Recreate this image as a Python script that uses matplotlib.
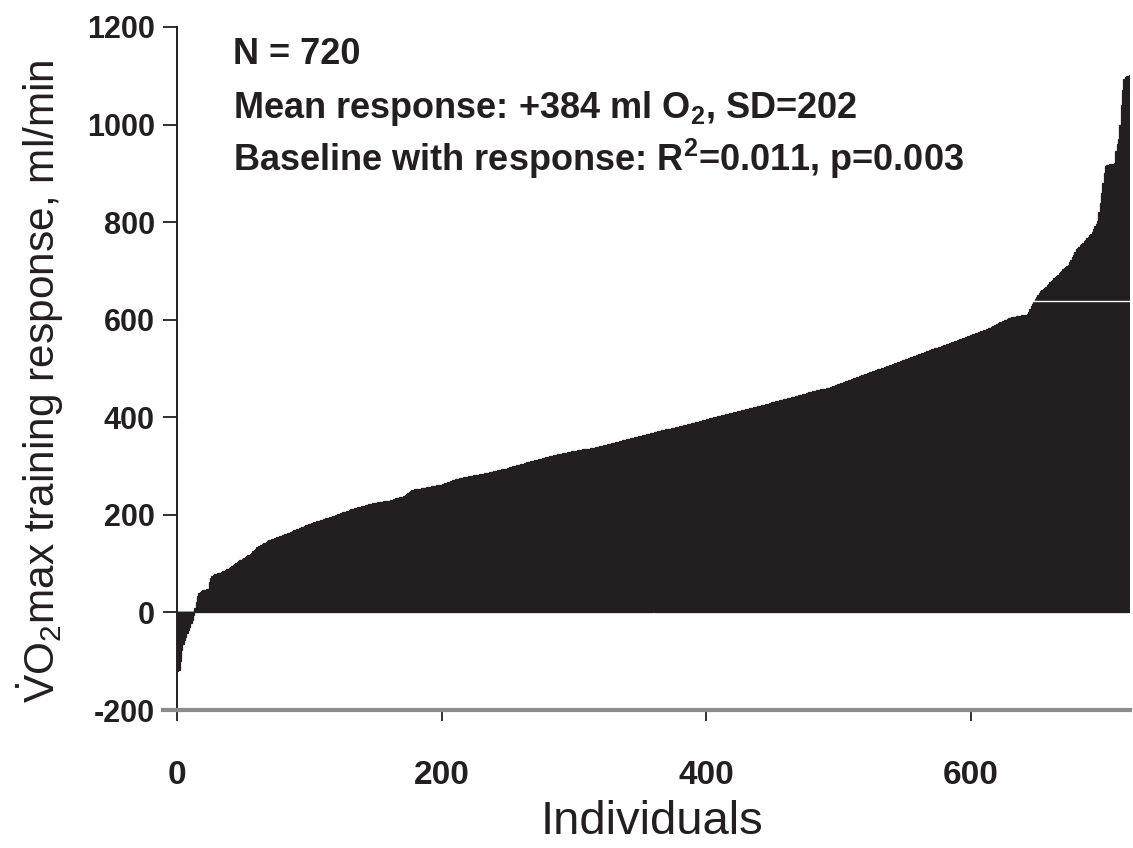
import matplotlib.pyplot as plt
import numpy as np

# VO2max training response per individual (ml/min), sorted
response = [
    -121, -118, -100, -77, -65, -57, -50, -42, -36, -30, -22, -16, -5, 10, 22, 33, 39, 42, 44, 45,
    45, 46, 47, 48, 62, 70, 74, 76, 78, 79, 80, 80, 81, 82, 84, 85, 87, 88, 90, 91,
    93, 95, 97, 99, 101, 103, 105, 107, 108, 110, 112, 113, 115, 117, 118, 120, 122, 125, 128, 131,
    134, 136, 137, 139, 140, 142, 143, 145, 146, 148, 149, 150, 151, 152, 153, 154, 155, 156, 157, 158,
    159, 160, 161, 162, 163, 164, 165, 166, 168, 169, 170, 171, 173, 174, 175, 176, 178, 179, 180, 181,
    182, 183, 184, 185, 186, 187, 187, 188, 189, 190, 191, 192, 193, 194, 194, 195, 196, 197, 198, 199,
    200, 201, 202, 203, 204, 205, 206, 206, 207, 208, 210, 211, 212, 213, 214, 215, 216, 216, 217, 218,
    219, 219, 220, 221, 222, 223, 223, 224, 224, 225, 225, 226, 226, 227, 227, 227, 228, 228, 229, 229,
    229, 230, 231, 232, 233, 234, 235, 235, 236, 237, 237, 239, 241, 243, 245, 246, 248, 250, 251, 252,
    253, 253, 254, 254, 255, 255, 256, 256, 257, 257, 258, 258, 259, 259, 260, 260, 261, 261, 262, 262,
    263, 264, 265, 266, 267, 268, 269, 270, 271, 272, 273, 274, 274, 275, 276, 276, 277, 277, 278, 278,
    279, 279, 280, 280, 281, 281, 282, 282, 283, 283, 284, 284, 285, 285, 286, 286, 287, 288, 288, 289,
    290, 290, 291, 292, 292, 293, 294, 294, 295, 296, 297, 298, 299, 300, 300, 301, 302, 303, 303, 304,
    305, 305, 306, 307, 308, 308, 309, 310, 310, 311, 312, 313, 313, 314, 315, 315, 316, 317, 318, 318,
    319, 320, 320, 321, 322, 322, 323, 324, 324, 325, 325, 326, 326, 327, 327, 328, 328, 329, 330, 330,
    331, 331, 332, 332, 333, 333, 334, 334, 335, 335, 336, 336, 337, 337, 338, 338, 339, 339, 340, 341,
    341, 342, 343, 343, 344, 345, 345, 346, 347, 348, 348, 349, 350, 350, 351, 352, 353, 353, 354, 355,
    355, 356, 357, 358, 358, 359, 360, 360, 361, 362, 362, 363, 364, 364, 365, 366, 366, 367, 368, 368,
    369, 370, 370, 371, 372, 372, 373, 374, 374, 375, 376, 376, 377, 378, 378, 379, 380, 380, 381, 382,
    382, 383, 384, 384, 385, 386, 386, 387, 388, 388, 389, 390, 390, 391, 392, 392, 393, 394, 394, 395,
    396, 397, 398, 398, 399, 400, 400, 401, 402, 402, 403, 404, 404, 405, 406, 406, 407, 408, 408, 409,
    410, 410, 411, 412, 412, 413, 414, 414, 415, 416, 417, 418, 419, 419, 420, 421, 421, 422, 423, 424,
    424, 425, 426, 426, 427, 428, 428, 429, 430, 431, 431, 432, 433, 434, 434, 435, 436, 436, 437, 438,
    438, 439, 440, 440, 441, 442, 442, 443, 444, 445, 445, 446, 447, 448, 448, 449, 450, 451, 451, 452,
    453, 453, 454, 455, 455, 456, 457, 457, 458, 459, 460, 460, 461, 462, 463, 464, 465, 466, 467, 468,
    469, 470, 471, 472, 473, 474, 475, 476, 477, 478, 479, 480, 481, 482, 483, 484, 485, 486, 487, 488,
    489, 490, 491, 492, 493, 494, 495, 496, 497, 498, 499, 500, 501, 502, 503, 504, 505, 506, 507, 508,
    509, 510, 511, 512, 513, 514, 515, 516, 517, 518, 519, 520, 521, 522, 523, 524, 525, 526, 527, 528,
    529, 530, 531, 532, 533, 534, 535, 536, 537, 538, 539, 540, 541, 542, 543, 544, 545, 546, 547, 548,
    549, 550, 551, 552, 553, 554, 555, 556, 557, 558, 559, 560, 561, 562, 563, 564, 565, 566, 567, 568,
    569, 570, 571, 572, 573, 574, 575, 576, 577, 578, 579, 580, 581, 582, 584, 586, 587, 589, 590, 592,
    593, 595, 596, 597, 598, 599, 600, 602, 603, 604, 605, 605, 606, 606, 607, 607, 608, 608, 609, 609,
    610, 610, 611, 616, 622, 628, 633, 638, 642, 646, 650, 654, 658, 660, 663, 666, 668, 671, 674, 677,
    680, 682, 685, 687, 690, 692, 695, 697, 700, 703, 706, 709, 711, 713, 718, 723, 728, 733, 738, 745,
    747, 750, 753, 756, 758, 761, 764, 767, 770, 773, 775, 780, 786, 792, 797, 802, 820, 840, 860, 880,
    900, 915, 918, 918, 919, 919, 920, 920, 922, 945, 960, 971, 1000, 1040, 1070, 1094, 1098, 1100, 1100, 1102,
]
individuals = np.arange(len(response))

x_ticks = [0, 200, 400, 600]
y_ticks = [-200, 0, 200, 400, 600, 800, 1000, 1200]

stats_lines = [
    "N = 720",
    r"Mean response: +384 ml O$_\mathbf{2}$, SD=202",
    r"Baseline with response: R$^\mathbf{2}$=0.011, p=0.003",
]

ink = "#231f20"
plt.rcParams["mathtext.fontset"] = "custom"
plt.rcParams["mathtext.rm"] = "Liberation Sans"
plt.rcParams["mathtext.bf"] = "Liberation Sans:bold"

fig = plt.figure(figsize=(11.33, 8.48), dpi=100)
W, H = 1133, 848
ax = fig.add_axes([177 / W, 1 - 710 / H, (1130 - 177) / W, (710 - 27) / H])

ax.axhline(0, color="#9a9a9a", lw=1.2, zorder=0.5)
ax.bar(individuals, response, width=1.0, align="edge", color=ink,
       edgecolor=ink, linewidth=0.9, zorder=2)
# thin white scan line across the top of the tail
ax.axhline(638, xmin=646 / 720, xmax=1, color="white", lw=1.0, zorder=3)

ax.set_xlim(0, 720)
ax.set_ylim(-200, 1200)
ax.set_xticks(x_ticks, labels=[str(t) for t in x_ticks], family="Liberation Sans",
              fontweight="bold", fontsize=24, color=ink)
ax.set_yticks(y_ticks, labels=[str(t) for t in y_ticks], family="Liberation Sans",
              fontweight="bold", fontsize=22, color=ink)

for side in ["top", "right", "bottom"]:
    ax.spines[side].set_visible(False)
ax.spines["left"].set_color(ink)
ax.spines["left"].set_linewidth(1.4)
ax.axhline(-200, xmin=-0.015, xmax=1.0, color="#8c8c8c", lw=3, clip_on=False, zorder=4)

ax.tick_params(axis="y", direction="out", length=10, width=1.3, color=ink, pad=6)
ax.tick_params(axis="x", direction="out", length=8, width=1.3, color=ink, pad=28)

for i, line in enumerate(stats_lines):
    fig.text(233 / W, 1 - (64 + 53.5 * i) / H, line, fontsize=26, fontweight="bold",
             family="Liberation Sans", color=ink, va="baseline", ha="left")

fig.text(40 / W, 1 - 381 / H, r"$\dot{\mathrm{V}}$O$_\mathrm{2}$max training response, ml/min",
         rotation=90, ha="center", va="center", fontsize=30.5, family="Liberation Sans", color=ink)
fig.text(652 / W, 1 - 822 / H, "Individuals", ha="center", va="center",
         fontsize=34, family="Liberation Sans", color=ink)

plt.savefig("out.png", dpi=100)
